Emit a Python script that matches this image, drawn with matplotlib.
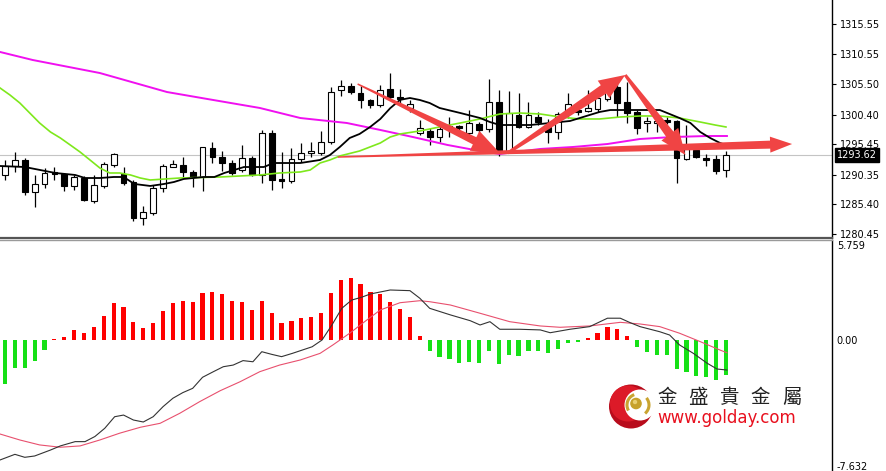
import matplotlib
matplotlib.use('Agg')
import matplotlib.pyplot as plt
import matplotlib.transforms as mtransforms
from matplotlib.patches import Rectangle, Polygon, Circle, Arc
import numpy as np

# ---------------- data ----------------
opens = [1290.33, 1291.83, 1292.84, 1287.48, 1288.82, 1290.83, 1290.49, 1288.49, 1289.82, 1285.98,
         1288.49, 1292.00, 1290.49, 1289.15, 1283.13, 1283.97, 1288.15, 1291.66, 1292.00, 1290.83,
         1289.99, 1294.84, 1293.34, 1292.33, 1291.16, 1293.17, 1290.33, 1297.35, 1289.66, 1289.32,
         1293.00, 1294.01, 1294.01, 1295.85, 1304.55, 1305.22, 1304.05, 1302.88, 1302.04, 1304.72,
         1303.38, 1301.54, 1297.35, 1297.69, 1296.68, 1298.19, 1298.53, 1297.35, 1298.86, 1298.02,
         1302.54, 1294.34, 1300.37, 1298.36, 1300.03, 1298.36, 1297.52, 1300.53, 1301.20, 1301.04,
         1301.37, 1303.04, 1305.05, 1302.54, 1300.87, 1299.03, 1299.03, 1299.53, 1299.36, 1293.00,
         1294.51, 1293.17, 1293.00, 1291.16]
highs = [1292.84, 1294.17, 1293.17, 1290.33, 1291.50, 1291.66, 1290.66, 1290.33, 1290.16, 1290.33,
         1292.50, 1294.01, 1291.66, 1289.49, 1285.14, 1288.65, 1292.17, 1292.84, 1293.34, 1291.16,
         1295.01, 1295.85, 1294.34, 1292.84, 1295.35, 1293.51, 1297.86, 1297.86, 1294.17, 1294.84,
         1295.68, 1295.85, 1297.69, 1305.05, 1306.22, 1305.72, 1305.22, 1303.04, 1305.39, 1307.39,
         1304.72, 1302.88, 1299.53, 1298.19, 1298.69, 1300.03, 1298.69, 1301.20, 1299.19, 1306.39,
         1304.55, 1304.38, 1304.05, 1302.54, 1300.87, 1299.70, 1300.87, 1304.05, 1302.04, 1304.55,
         1304.55, 1305.55, 1306.22, 1305.89, 1301.20, 1300.03, 1299.53, 1300.03, 1299.53, 1298.69,
         1294.84, 1293.84, 1293.67, 1294.34]
lows = [1289.49, 1290.83, 1286.98, 1284.97, 1288.15, 1289.49, 1287.65, 1287.82, 1285.98, 1285.64,
        1288.15, 1291.66, 1288.65, 1282.63, 1281.96, 1283.63, 1287.48, 1291.66, 1289.99, 1288.32,
        1287.65, 1292.33, 1290.99, 1290.33, 1290.83, 1290.16, 1288.99, 1287.82, 1288.15, 1288.99,
        1292.50, 1293.34, 1293.67, 1295.51, 1303.55, 1303.88, 1301.54, 1301.54, 1301.70, 1302.88,
        1302.04, 1300.87, 1297.02, 1295.35, 1295.85, 1296.68, 1297.86, 1297.02, 1297.35, 1297.52,
        1293.51, 1294.17, 1298.19, 1298.19, 1298.69, 1295.68, 1296.35, 1299.86, 1300.37, 1300.87,
        1300.87, 1302.71, 1300.03, 1299.03, 1297.19, 1297.52, 1297.52, 1298.86, 1288.99, 1292.84,
        1293.17, 1291.83, 1290.49, 1289.99]
closes = [1291.83, 1292.84, 1287.48, 1288.82, 1290.66, 1290.49, 1288.49, 1289.99, 1286.14, 1288.65,
          1292.17, 1293.84, 1288.99, 1283.13, 1284.13, 1288.15, 1291.83, 1292.17, 1290.83, 1289.99,
          1295.01, 1293.34, 1292.33, 1290.66, 1293.17, 1290.33, 1297.35, 1289.49, 1289.32, 1293.00,
          1294.01, 1294.34, 1295.85, 1304.21, 1305.22, 1304.21, 1302.88, 1302.04, 1304.55, 1303.38,
          1303.04, 1302.21, 1298.19, 1296.68, 1298.02, 1298.53, 1298.19, 1299.03, 1297.86, 1302.54,
          1294.01, 1300.70, 1298.36, 1300.37, 1299.19, 1297.52, 1300.53, 1302.21, 1300.87, 1301.54,
          1303.21, 1304.38, 1302.37, 1300.70, 1298.19, 1299.36, 1299.36, 1299.19, 1293.17, 1295.18,
          1293.34, 1292.84, 1290.99, 1293.62]

# moving averages: (bar index, price) points
ma_fast_x = [-0.5, 2.0, 5.1, 7.1, 8.1, 9.6, 11.0, 12.0, 13.1, 14.7, 16.1, 17.1, 18.1, 20.1, 21.2, 22.2,
             23.2, 24.2, 26.2, 27.2, 29.9, 31.9, 32.9, 33.9, 34.9, 35.9, 37.0, 38.0, 39.0, 40.0, 41.0,
             42.0, 43.0, 44.0, 46.1, 48.1, 49.1, 50.1, 53.2, 55.2, 57.2, 58.2, 59.2, 60.2, 61.3, 66.3,
             67.3, 68.3, 69.4, 70.4, 71.4, 72.4, 73.0]
ma_fast_y = [1291.83, 1291.66, 1290.66, 1290.33, 1289.82, 1289.82, 1289.99, 1289.99, 1288.82, 1288.49,
             1288.82, 1289.15, 1289.66, 1289.99, 1289.99, 1290.66, 1291.16, 1291.66, 1291.66, 1292.33,
             1292.33, 1292.84, 1293.67, 1295.01, 1296.52, 1297.19, 1298.40, 1299.70, 1301.50, 1302.90,
             1303.21, 1302.88, 1302.37, 1301.54, 1300.70, 1299.86, 1299.19, 1298.69, 1298.69, 1299.03,
             1299.36, 1299.86, 1300.37, 1300.87, 1301.20, 1301.20, 1300.53, 1299.86, 1299.03, 1297.52,
             1296.52, 1295.68, 1295.35]
ma_mid_x = [-0.5, 0.5, 1.5, 2.5, 3.5, 4.6, 5.6, 6.6, 7.6, 8.6, 9.6, 10.6, 11.6, 12.7, 13.7, 14.7, 17.7,
            21.8, 23.8, 25.8, 27.8, 29.9, 30.9, 31.9, 32.9, 33.9, 35.9, 38.0, 39.0, 40.0, 42.0, 44.0,
            46.1, 48.1, 50.1, 52.1, 54.2, 56.2, 58.2, 60.2, 62.3, 64.3, 66.3, 68.3, 70.4, 71.9, 73.0]
ma_mid_y = [1304.88, 1303.71, 1302.37, 1300.70, 1299.03, 1297.52, 1296.52, 1295.35, 1294.17, 1292.84,
            1291.50, 1290.66, 1290.66, 1290.33, 1289.82, 1289.49, 1289.82, 1289.99, 1290.16, 1290.33,
            1290.66, 1290.83, 1291.16, 1292.33, 1292.84, 1293.51, 1294.34, 1295.68, 1296.68, 1297.19,
            1297.69, 1298.36, 1299.03, 1299.70, 1300.53, 1300.70, 1300.53, 1300.03, 1299.70, 1299.70,
            1300.03, 1300.20, 1300.20, 1299.86, 1299.19, 1298.69, 1298.36]
ma_slow_x = [-0.5, 2.8, 9.6, 16.4, 20.5, 25.8, 29.9, 34.6, 38.0, 41.3, 44.8, 48.1, 50.1, 54.2, 57.5,
             61.0, 64.3, 67.6, 71.1, 73.1]
ma_slow_y = [1310.91, 1309.57, 1307.39, 1304.21, 1303.04, 1301.54, 1299.86, 1299.03, 1297.86, 1296.68,
             1295.35, 1294.34, 1293.84, 1294.68, 1295.01, 1295.51, 1296.35, 1296.68, 1296.85, 1296.85]

price_ticks = [1315.55, 1310.55, 1305.50, 1300.40, 1295.45, 1290.35, 1285.40, 1280.45]

# MACD panel
macd_hist = [-2.67, -1.70, -1.70, -1.27, -0.61, 0.03, 0.18, 0.61, 0.42, 0.79,
             1.45, 2.24, 2.00, 1.09, 0.73, 1.03, 1.76, 2.24, 2.36, 2.30,
             2.85, 2.91, 2.79, 2.36, 2.30, 1.82, 2.36, 1.64, 1.03, 1.15,
             1.33, 1.39, 1.64, 2.85, 3.64, 3.76, 3.39, 2.91, 2.79, 2.30,
             1.88, 1.39, 0.24, -0.67, -1.03, -1.15, -1.39, -1.33, -1.39, -0.67,
             -1.45, -0.91, -0.97, -0.67, -0.67, -0.79, -0.55, -0.18, -0.12, 0.12,
             0.42, 0.79, 0.67, 0.24, -0.42, -0.73, -0.91, -0.91, -1.76, -1.94,
             -2.18, -2.24, -2.42, -2.12]
macd_x = [-0.5, 1.0, 2.0, 3.0, 4.6, 5.6, 7.1, 8.1, 9.1, 10.1, 11.1, 12.0, 13.0, 14.0, 15.0, 16.0, 17.0,
          18.0, 19.0, 20.0, 21.1, 22.1, 23.1, 24.1, 25.1, 26.0, 27.0, 28.0, 29.1, 30.1, 31.1, 32.1,
          33.1, 34.1, 35.1, 36.1, 37.0, 39.0, 41.0, 42.0, 43.0, 45.1, 47.1, 48.1, 49.1, 50.1, 52.1,
          54.2, 55.2, 57.2, 59.2, 61.0, 62.3, 63.3, 64.3, 66.3, 67.3, 68.3, 69.7, 71.1, 72.1, 73.1]
macd_line = [-7.27, -6.93, -7.11, -7.03, -6.67, -6.42, -6.16, -6.16, -5.85, -5.35, -4.65, -4.55, -4.85,
             -4.97, -4.65, -4.04, -3.53, -3.19, -2.93, -2.26, -1.92, -1.62, -1.52, -1.25, -1.32, -0.71,
             -0.87, -1.01, -0.81, -0.61, -0.41, 0.00, 0.91, 1.92, 2.42, 2.59, 2.79, 3.03, 2.99, 2.53,
             1.92, 1.52, 1.17, 0.91, 1.11, 0.65, 0.65, 0.61, 0.44, 0.65, 0.81, 1.32, 1.32, 1.05, 0.81,
             0.50, 0.30, -0.30, -0.81, -1.41, -1.76, -1.82]
signal_x = [-0.5, 1.5, 3.5, 5.6, 7.6, 9.6, 11.6, 13.7, 15.7, 17.7, 19.7, 21.8, 23.8, 25.8, 27.8, 29.9,
            31.9, 33.2, 34.9, 36.5, 38.0, 40.0, 42.0, 43.0, 45.1, 48.1, 51.1, 54.2, 56.2, 59.2, 62.3,
            64.3, 66.3, 68.3, 70.4, 72.4, 73.1]
signal_line = [-5.70, -6.06, -6.36, -6.50, -6.42, -6.06, -5.65, -5.29, -5.05, -4.44, -3.74, -3.07,
               -2.53, -1.92, -1.52, -1.21, -0.81, -0.30, 0.41, 1.15, 1.82, 2.26, 2.38, 2.32, 2.12,
               1.62, 1.11, 0.85, 0.77, 0.85, 1.07, 0.97, 0.81, 0.41, -0.10, -0.61, -0.77]
macd_ticks = [5.759, 0.0, -7.632]
macd_tick_labels = ['5.759', '0.00', '-7.632']

# hand-drawn annotation arrows: (start (bar, price), tip (bar, price))
arrows = [((35.7, 1305.55), (50.1, 1294.00)),
          ((50.9, 1294.00), (62.8, 1307.06)),
          ((62.8, 1307.06), (68.9, 1293.67)),
          ((33.7, 1293.33), (79.7, 1295.51))]
arrow_style = [(1.5, 8, 22, 28), (3, 10, 21, 26), (3, 9, 21, 26), (1.5, 8, 16, 22)]

brand_cn = ['金', '盛', '貴', '金', '屬']
brand_url = 'www.golday.com'

# ---------------- layout ----------------
W, H = 886, 471
AXR = 832
fig = plt.figure(figsize=(W / 100, H / 100), dpi=100)
fig.patch.set_facecolor('white')
ax1 = fig.add_axes([0, (H - 238) / H, AXR / W, 238 / H])
ax2 = fig.add_axes([0, 0, AXR / W, 231 / H])

xlim = (-0.51, (AXR - 5) / 9.876)
for ax in (ax1, ax2):
    ax.set_xlim(*xlim)
    ax.set_xticks([])
    ax.set_facecolor('white')
    for s in ('left', 'top'):
        ax.spines[s].set_visible(False)
    ax.spines['right'].set_color('black')
    ax.spines['right'].set_linewidth(1.0)
    ax.yaxis.tick_right()

ax1.set_ylim(1279.78, 1319.61)
ax1.spines['bottom'].set_color('#555555')
ax1.spines['bottom'].set_linewidth(1.6)
ax2.spines['bottom'].set_visible(False)
ax2.spines['top'].set_visible(True)
ax2.spines['top'].set_color('#9a9a9a')
ax2.spines['top'].set_linewidth(1.0)
ax2.set_ylim(-7.94, 6.06)

# price panel
last = closes[-1]
ax1.axhline(last, color='#c4c4c4', lw=0.8, zorder=1)
for i, (o, h, l, c) in enumerate(zip(opens, highs, lows, closes)):
    ax1.vlines(i, l, h, color='black', lw=0.9, zorder=3)
    bull = c >= o
    ax1.add_patch(Rectangle((i - 0.29, min(o, c)), 0.58, max(abs(c - o), 0.06),
                            facecolor='white' if bull else 'black', edgecolor='black',
                            lw=0.8, zorder=3.1))
ax1.plot(ma_slow_x, ma_slow_y, color='#f010f0', lw=1.4, zorder=4)
ax1.plot(ma_mid_x, ma_mid_y, color='#7ee81c', lw=1.2, zorder=4)
ax1.plot(ma_fast_x, ma_fast_y, color='black', lw=1.3, zorder=4.1)

ax1.set_yticks(price_ticks)
ax1.set_yticklabels([f'{v:.2f}' for v in price_ticks])
ax1.tick_params(axis='y', length=3, width=0.8, pad=2.5, labelsize=7, colors='black')

trans = mtransforms.blended_transform_factory(ax1.transAxes, ax1.transData)
ax1.text(1.0 + 5 / AXR, last, f'{last:.2f}', transform=trans, ha='left', va='center',
         fontsize=7, color='white', clip_on=False, zorder=10,
         bbox=dict(boxstyle='square,pad=0.22', fc='black', ec='black'))

# MACD panel
xi = np.arange(len(macd_hist))
hist = np.array(macd_hist)
cols = np.where(hist >= 0, '#ff0000', '#16e016')
ax2.bar(xi, hist, width=0.42, color=cols, zorder=2)
ax2.plot(signal_x, signal_line, color='#e8506e', lw=0.8, zorder=3)
ax2.plot(macd_x, macd_line, color='#333333', lw=0.8, zorder=3.1)
ax2.set_yticks(macd_ticks)
ax2.set_yticklabels(macd_tick_labels)
ax2.tick_params(axis='y', length=0, pad=3.5, labelsize=7, colors='black')

# overlay in pixel coordinates
ov = fig.add_axes([0, 0, 1, 1])
ov.set_xlim(0, W)
ov.set_ylim(H, 0)
ov.axis('off')

fig.canvas.draw()
for (p0, p1), (w0, w1, hw, hl) in zip(arrows, arrow_style):
    a = ax1.transData.transform(p0)
    b = ax1.transData.transform(p1)
    a = np.array([a[0], H - a[1]])
    b = np.array([b[0], H - b[1]])
    d = b - a
    u = d / np.hypot(*d)
    n = np.array([-u[1], u[0]])
    base = b - u * hl
    pts = [a + n * w0 / 2, base + n * w1 / 2, base + n * hw / 2, b,
           base - n * hw / 2, base - n * w1 / 2, a - n * w0 / 2]
    ov.add_patch(Polygon(pts, closed=True, facecolor='#f04444', edgecolor='none', zorder=6))

# logo
cx, cy = 631, 406.5
ov.add_patch(Circle((cx, cy), 22, facecolor='#b80c1c', edgecolor='none', zorder=7))
ov.add_patch(Circle((cx - 3, cy - 3), 18, facecolor='#dc1a28', edgecolor='none', zorder=7.1))
ov.add_patch(Circle((cx + 9, cy - 1.5), 15.5, facecolor='white', edgecolor='none', zorder=7.2))
ov.add_patch(Arc((cx + 7, cy - 1.5), 22, 22, theta1=150, theta2=250, color='#c9a431', lw=2.2, zorder=7.3))
ov.add_patch(Arc((cx + 7, cy - 1.5), 22, 22, theta1=-40, theta2=50, color='#c9a431', lw=2.2, zorder=7.3))
ov.add_patch(Circle((cx + 5, cy - 3), 5.8, facecolor='#c6a12a', edgecolor='none', zorder=7.4))
ov.add_patch(Circle((cx + 4, cy - 4.5), 2.2, facecolor='#e8cf70', edgecolor='none', zorder=7.5))

for k, ch in enumerate(brand_cn):
    ov.text(667 + 31.2 * k, 397.5, ch, ha='center', va='center', fontsize=14,
            color='#222222', family=['Noto Sans CJK TC', 'DejaVu Sans'], zorder=8)
ov.text(657, 423, brand_url, ha='left', va='baseline', fontsize=12, color='#e8101e',
        family='DejaVu Sans', zorder=8)

fig.savefig('out.png', dpi=100, facecolor='white')
